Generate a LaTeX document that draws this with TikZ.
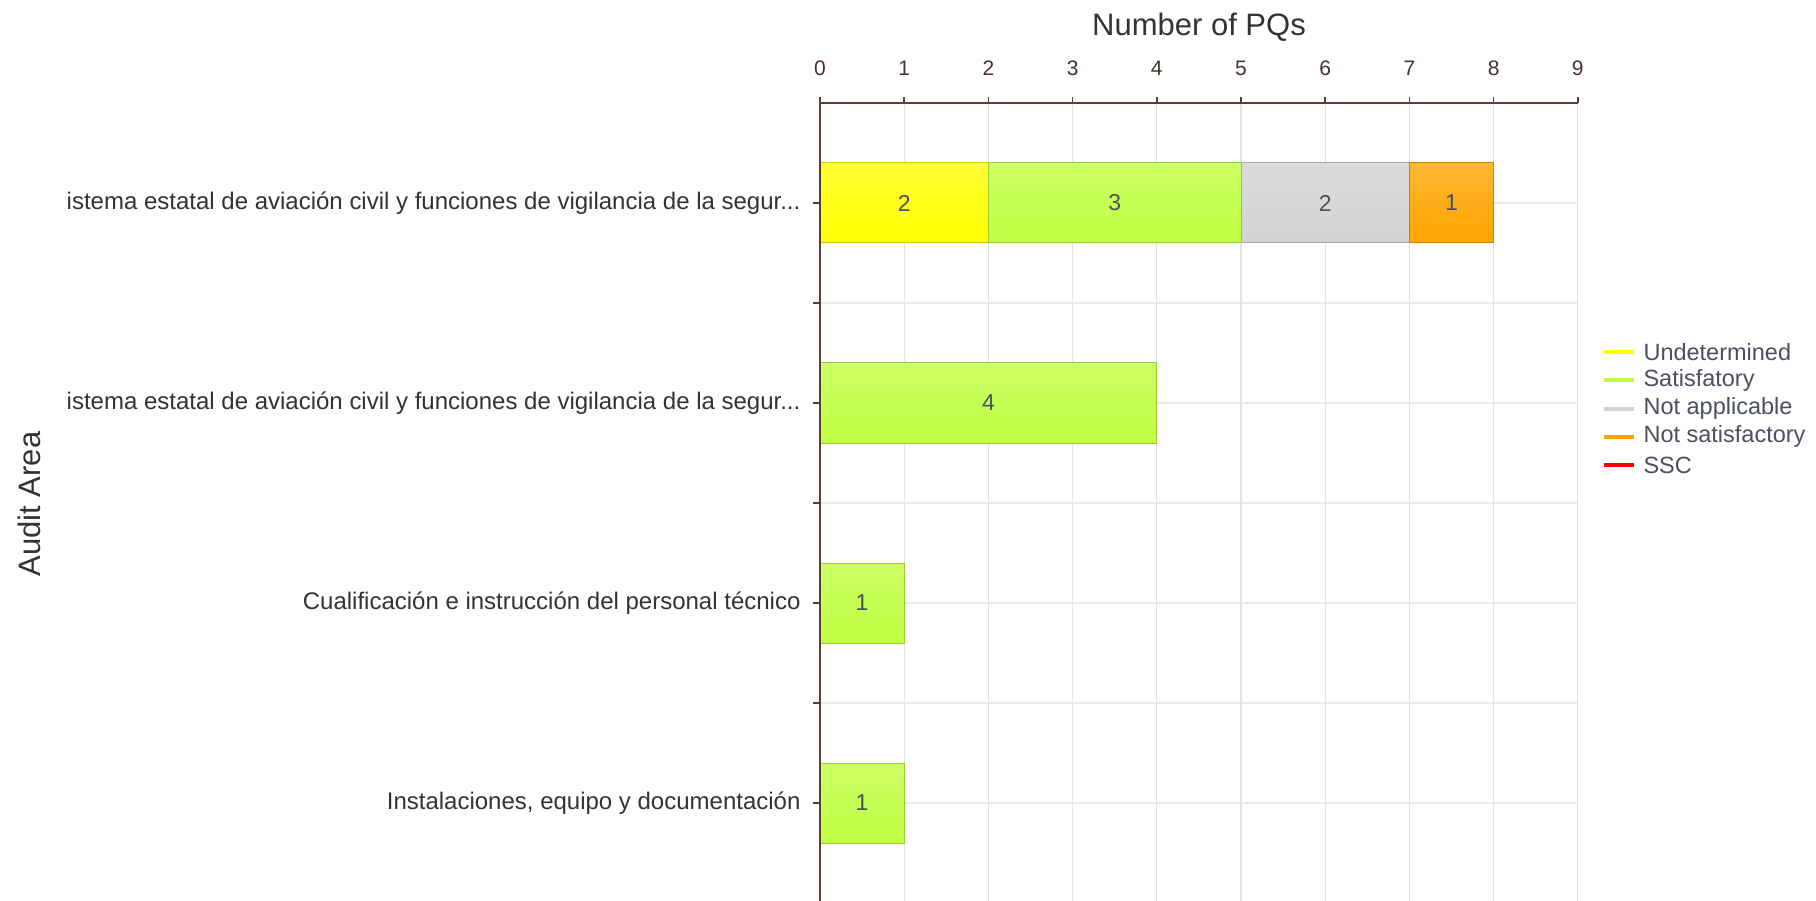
\documentclass[tikz,border=0pt]{standalone}
\usepackage{fontspec}
\setmainfont{Liberation Sans}
\begin{document}
\begin{tikzpicture}[x=1pt,y=-1pt,
  grid/.style={draw=hgridc,line width=1.2pt},
  vgrid/.style={draw=vgridc,line width=1.3pt},
  axisline/.style={draw=axbrown,line width=1.5pt},
  ticklab/.style={font=\fontsize{21}{21}\selectfont,text=axbrown!80!black},
  catlab/.style={font=\fontsize{24}{24}\selectfont,text=txt,anchor=east},
  barlab/.style={font=\fontsize{23}{23}\selectfont,text=barnum},
  leglab/.style={font=\fontsize{23.5}{24}\selectfont,text=legtxt,anchor=west},
  legline/.style={line width=4pt},
  bar/.style={line width=1pt}]
\definecolor{axbrown}{HTML}{5A3E33}
\definecolor{hgridc}{HTML}{E8EBEE}
\definecolor{vgridc}{HTML}{DCE4EE}
\definecolor{txt}{HTML}{333333}
\definecolor{barnum}{HTML}{4A4F60}
\definecolor{legtxt}{HTML}{4A5060}
\definecolor{cyel}{HTML}{FFFF00}
\definecolor{cgrn}{HTML}{C0FF40}
\definecolor{cgry}{HTML}{D3D3D3}
\definecolor{cora}{HTML}{FFA500}
\definecolor{cred}{HTML}{FF0000}
\useasboundingbox (0,0) rectangle (1816,901);
\fill[white] (0,0) rectangle (1816,901);
% grid
\foreach \y in {203,303,403,503,603,703,803} { \draw[grid] (820,\y) -- (1578,\y); }
\foreach \i in {1,...,9} { \draw[vgrid] ({820+84.2*\i},103) -- ({820+84.2*\i},901); }
% bars
\newcommand{\mybar}[5]{% x0,x1,yc,color,label
  \path[bar,draw=#4!80!black,top color=#4!80!white,bottom color=#4] ({820+84.2*#1},{#3-40}) rectangle ({820+84.2*#2},{#3+40});
  \node[barlab] at ({820+84.2*(#1+#2)/2},#3) {#5};}
\mybar{0}{2}{203}{cyel}{2}
\mybar{2}{5}{203}{cgrn}{3}
\mybar{5}{7}{203}{cgry}{2}
\mybar{7}{8}{203}{cora}{1}
\mybar{0}{4}{403}{cgrn}{4}
\mybar{0}{1}{603}{cgrn}{1}
\mybar{0}{1}{803}{cgrn}{1}
% axes
\draw[axisline] (820,103) -- (1578,103);
\draw[axisline] (820,103) -- (820,901);
\foreach \i in {0,...,9} {
  \draw[axisline] ({820+84.2*\i},103) -- ({820+84.2*\i},97);
  \node[ticklab] (t\i) at ({820+84.2*\i},68) {\i};
}
\foreach \y in {203,303,403,503,603,703,803} { \draw[axisline] (820,\y) -- (813,\y); }
\node[font=\fontsize{31}{31}\selectfont,text=txt] (title) at (1199,27) {Number of PQs};
\node[font=\fontsize{31}{31}\selectfont,text=txt,rotate=90] (ylab) at (29,504) {Audit Area};
% category labels
\node[catlab] (c1) at (804,203) {istema estatal de aviación civil y funciones de vigilancia de la segur...};
\node[catlab] (c2) at (804,403) {istema estatal de aviación civil y funciones de vigilancia de la segur...};
\node[catlab] (c3) at (804,603) {Cualificación e instrucción del personal técnico};
\node[catlab] (c4) at (804,803) {Instalaciones, equipo y documentación};
% legend
\foreach \c/\t [count=\k from 0] in {cyel/Undetermined,cgrn/Satisfatory,cgry/Not applicable,cora/Not satisfactory,cred/SSC} {
  \draw[legline,draw=\c] (1604,{352+28.3*\k}) -- (1634,{352+28.3*\k});
  \node[leglab] (l\k) at (1640,{352+28.3*\k}) {\t};
}
\end{tikzpicture}
\end{document}
